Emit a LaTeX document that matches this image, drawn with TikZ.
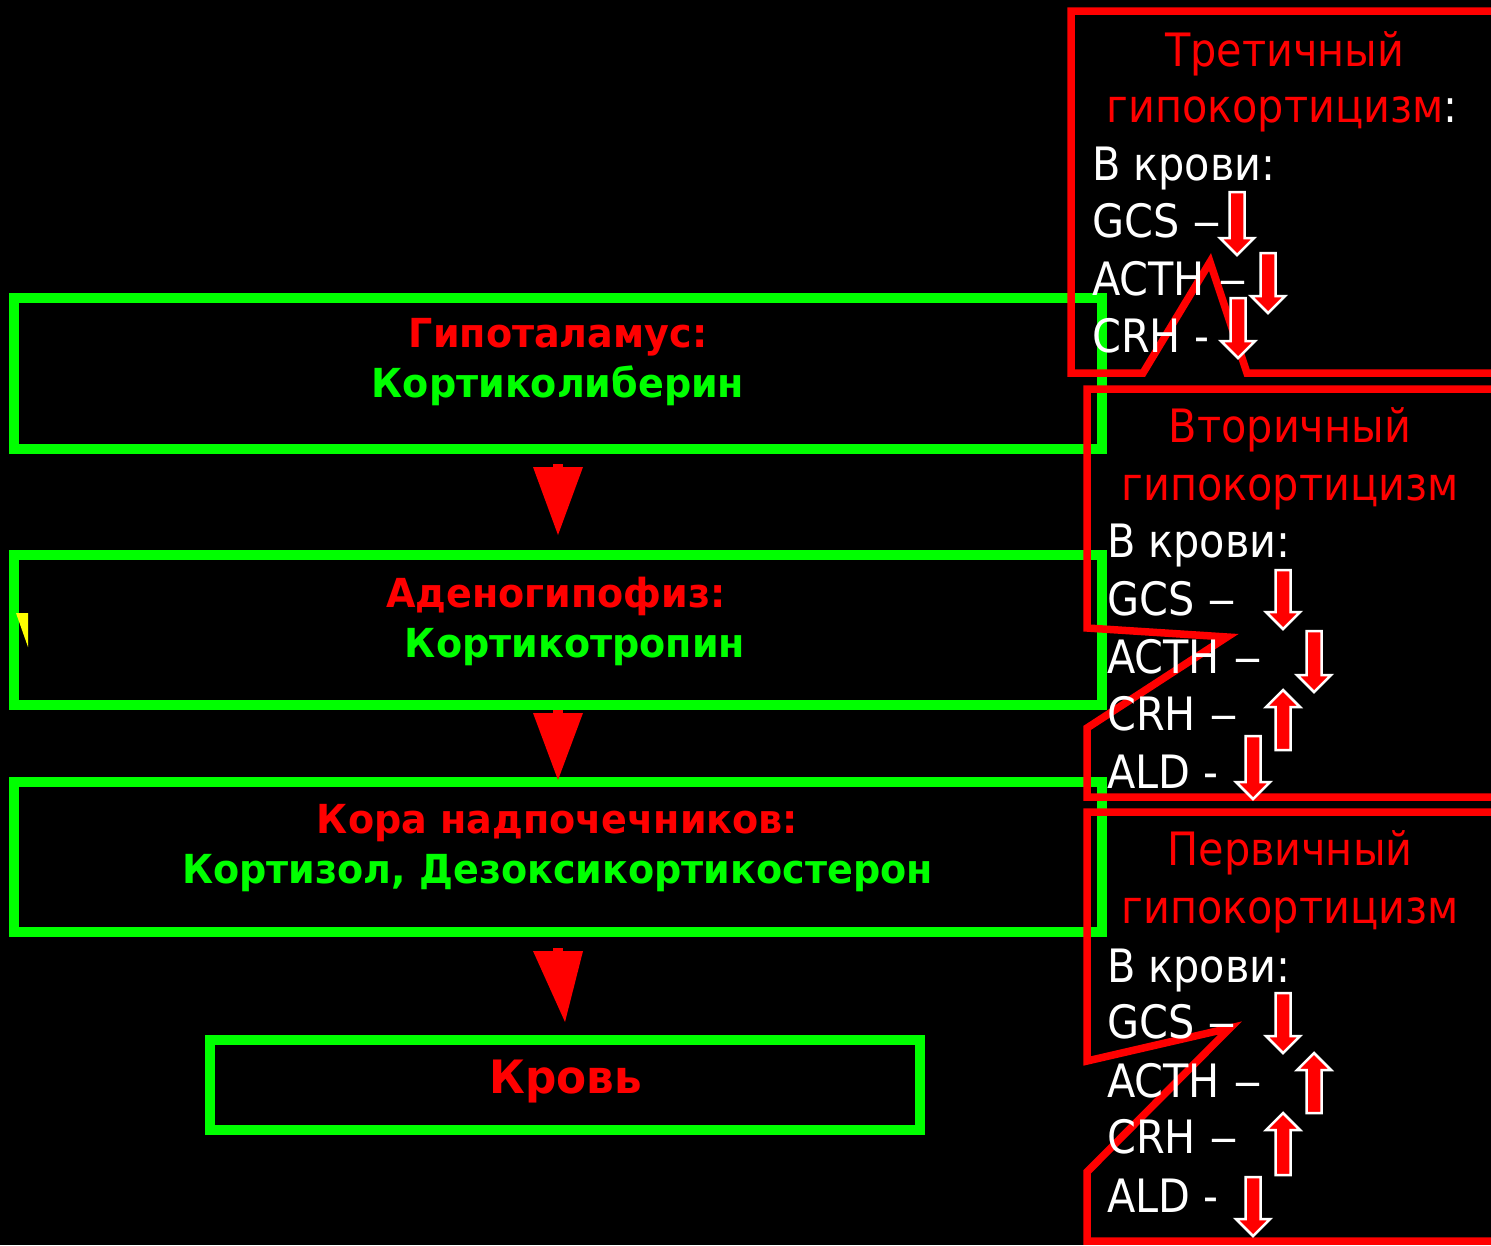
\documentclass[tikz,border=0pt]{standalone}
\usepackage{fontspec}
\setmainfont{DejaVu Sans}
\newfontfamily\condf{DejaVu Sans Condensed}
\newfontfamily\boxf{DejaVu Sans}[FakeStretch=0.952]
\usetikzlibrary{calc}
\definecolor{gr}{RGB}{0,255,0}
\definecolor{rd}{RGB}{255,0,0}
\definecolor{yl}{RGB}{255,255,0}
\newcommand\dd{\scalebox{1.4}[1]{–}}
\newcommand\myDown[3]{\filldraw[blk] (#1-7.5,#2) -- (#1+7.5,#2) -- (#1+7.5,#3-17) -- (#1+17,#3-17) -- (#1,#3) -- (#1-17,#3-17) -- (#1-7.5,#3-17) -- cycle;}
\newcommand\myUp[3]{\filldraw[blk] (#1-7.5,#3) -- (#1+7.5,#3) -- (#1+7.5,#2+17) -- (#1+17,#2+17) -- (#1,#2) -- (#1-17,#2+17) -- (#1-7.5,#2+17) -- cycle;}
\newcommand\myConn[4]{% from node, to node, start offset, end offset
  \fill[rd] ($(#1.south)+(-5,#3)$) rectangle ($(#1.south)+(5,#3+4)$);
  \fill[rd] ($(#1.south)+(-25,#3+3)$) -- ($(#1.south)+(25,#3+3)$) -- ($(#2.north)+(0,-#4)$) -- cycle;}
\begin{document}
\begin{tikzpicture}[x=1pt,y=-1pt,
  gbox/.style={draw=gr,line width=10pt,inner sep=0pt,outer sep=0pt,rectangle},
  btxt/.style={anchor=base,inner sep=0pt,font=\boxf\fontsize{40}{40}\selectfont\bfseries},
  ctxt/.style={anchor=base west,inner sep=0pt,text=white,font=\condf\fontsize{46}{46}\selectfont},
  ctitle/.style={anchor=base,inner sep=0pt,text=rd,font=\condf\fontsize{46}{46}\selectfont},
  callout/.style={draw=rd,line width=7.5pt,line join=miter},
  blk/.style={fill=rd,draw=white,line width=2.5pt}]
\fill[black] (0,0) rectangle (1491,1245);
\useasboundingbox (0,0) rectangle (1491,1245);
\clip (0,0) rectangle (1491,1245);
% green boxes
\node[gbox,minimum width=1088pt,minimum height=151pt] (b1) at (558,373.5) {};
\node[gbox,minimum width=1088pt,minimum height=150pt] (b2) at (558,630) {};
\node[gbox,minimum width=1088pt,minimum height=150pt] (b3) at (558,857) {};
\node[gbox,minimum width=710pt,minimum height=90pt] (b4) at (565,1085) {};
% connectors
\myConn{b1}{b2}{15}{20}
\myConn{b2}{b3}{5}{2}
\myConn{b3}{b4}{16}{18}
% box texts
\node[btxt,text=rd] (t1a) at (558,347) {Гипоталамус:};
\node[btxt,text=gr] (t1b) at (558,397) {Кортиколиберин};
\node[btxt,text=rd] (t2a) at (556,607) {Аденогипофиз:};
\node[btxt,text=gr] (t2b) at (575,657) {Кортикотропин};
\node[btxt,text=rd] (t3a) at (557.5,833) {Кора надпочечников:};
\node[btxt,text=gr] (t3b) at (557.5,883) {Кортизол, Дезоксикортикостерон};
\node[btxt,text=rd,font=\boxf\fontsize{46}{46}\selectfont\bfseries] (t4) at (566,1093) {Кровь};
% yellow mark
\fill[yl] (16,613) -- (28,613) -- (28,647) -- cycle;
% callouts
\draw[callout] (1500,11) -- (1071,11) -- (1071,373) -- (1143,373) -- (1210,262) -- (1247,373) -- (1500,373);
\draw[callout] (1500,389) -- (1087,389) -- (1087,628) -- (1227,637) -- (1087,728) -- (1087,797) -- (1500,797);
\draw[callout] (1500,812) -- (1087,812) -- (1087,1061) -- (1230,1028) -- (1087,1172) -- (1087,1241) -- (1500,1241);
% callout 1 text
\node[ctitle] (c1t) at (1285,66) {Третичный};
\node[ctitle] (c1g) at (1282,122) {гипокортицизм\textcolor{white}{:}};
\node[ctxt] (c1k) at (1092,180) {В крови:};
\node[ctxt] (c1a) at (1092,237) {GCS \dd};
\node[ctxt] (c1b) at (1092,295) {ACTH \dd};
\node[ctxt] (c1c) at (1092,352) {CRH -};
% callout 2 text
\node[ctitle] (c2t) at (1290,442) {Вторичный};
\node[ctitle] (c2g) at (1290,500) {гипокортицизм};
\node[ctxt] (c2k) at (1107,557) {В крови:};
\node[ctxt] (c2a) at (1107,615) {GCS \dd};
\node[ctxt] (c2b) at (1107,673) {ACTH \dd};
\node[ctxt] (c2c) at (1107,730) {CRH \dd};
\node[ctxt] (c2d) at (1107,788) {ALD -};
% callout 3 text
\node[ctitle] (c3t) at (1290,865) {Первичный};
\node[ctitle] (c3g) at (1290,923) {гипокортицизм};
\node[ctxt] (c3k) at (1107,982) {В крови:};
\node[ctxt] (c3a) at (1107,1038) {GCS \dd};
\node[ctxt] (c3b) at (1107,1097) {ACTH \dd};
\node[ctxt] (c3c) at (1107,1153) {CRH \dd};
\node[ctxt] (c3d) at (1107,1212) {ALD -};
% block arrows
\myDown{1237}{192}{255}
\myDown{1268}{253}{313}
\myDown{1238}{298}{358}
\myDown{1283}{570}{629}
\myDown{1314}{631}{692}
\myUp{1283}{690}{750}
\myDown{1253}{736}{799}
\myDown{1283}{993}{1053}
\myUp{1314}{1053}{1113}
\myUp{1283}{1113}{1175}
\myDown{1253}{1177}{1236}
\end{tikzpicture}
\end{document}
